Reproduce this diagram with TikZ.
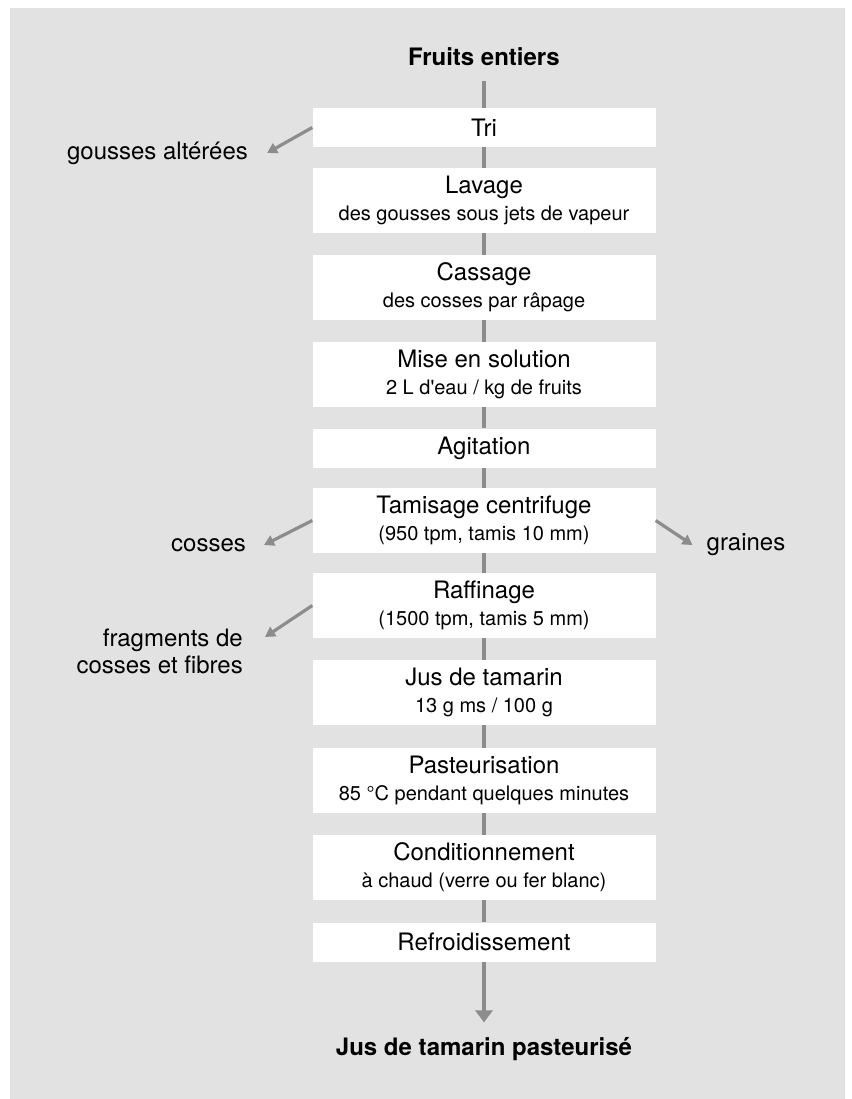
\documentclass[tikz,border=0pt]{standalone}
\usepackage{fontspec}
\setmainfont{TeX Gyre Heros}
\usetikzlibrary{arrows.meta}

\definecolor{bggray}{HTML}{E2E2E2}
\definecolor{flowgray}{HTML}{8C8C8C}
\newcommand{\detailfont}{\fontsize{20}{24}\selectfont}

\begin{document}
\begin{tikzpicture}[
    x=1pt, y=-1pt,
    font=\fontsize{24}{27}\selectfont,
    stepbox/.style={fill=white, inner sep=0pt, align=center, minimum width=343pt, minimum height=39pt},
    tallbox/.style={stepbox, minimum height=65pt},
    endlabel/.style={font=\fontsize{24}{27}\selectfont\bfseries, inner xsep=0pt, inner ysep=15pt, anchor=base},
    sidelabel/.style={inner ysep=0pt, align=right},
    flow/.style={draw=flowgray, line width=4pt},
    sidearrow/.style={draw=flowgray, line width=3.2pt, -{Triangle[length=10pt,width=11pt]}}
]

\useasboundingbox (0,0) rectangle (851,1099);
\fill[bggray] (10,8) rectangle (845,1099);

% Main chain of steps
\node[endlabel] (fruits) at (484,65.5) {Fruits entiers};
\node[stepbox] (tri) at (484,127.5) {Tri};
\node[tallbox] (lavage) at (484,200.5) {Lavage\\{\detailfont des gousses sous jets de vapeur}};
\node[tallbox] (cassage) at (484,287.5) {Cassage\\{\detailfont des cosses par râpage}};
\node[tallbox] (solution) at (484,374.5) {Mise en solution\\{\detailfont 2 L d\textquotesingle eau / kg de fruits}};
\node[stepbox] (agitation) at (484,448) {Agitation};
\node[tallbox] (tamisage) at (484,520.5) {Tamisage centrifuge\\{\detailfont (950 tpm, tamis 10 mm)}};
\node[tallbox] (raffinage) at (484,605.5) {Raffinage\\{\detailfont (1500 tpm, tamis 5 mm)}};
\node[tallbox] (jus) at (484,692.5) {Jus de tamarin\\{\detailfont 13 g ms / 100 g}};
\node[tallbox] (pasteur) at (484,780.5) {Pasteurisation\\{\detailfont 85 °C pendant quelques minutes}};
\node[tallbox] (condit) at (484,867.5) {Conditionnement\\{\detailfont à chaud (verre ou fer blanc)}};
\node[stepbox] (refroid) at (484,942) {Refroidissement};
\node[endlabel] (produit) at (484,1055.6) {Jus de tamarin pasteurisé};

% By-products
\node[sidelabel, inner xsep=19pt] (gousses) at (157.5,153) {gousses altérées};
\node[sidelabel, inner xsep=18pt] (cosses) at (208.5,545) {cosses};
\node[sidelabel, inner xsep=14pt] (graines) at (746,545) {graines};
\node[sidelabel, inner xsep=22pt, anchor=east] (fragments) at (265,651) {fragments de\\cosses et fibres};

% Connections
\foreach \a/\b in {fruits/tri, tri/lavage, lavage/cassage, cassage/solution, solution/agitation,
    agitation/tamisage, tamisage/raffinage, raffinage/jus, jus/pasteur, pasteur/condit, condit/refroid}
    \draw[flow] (\a) -- (\b);
\draw[flow, -{Triangle[length=12pt,width=17pt]}] (refroid) -- (produit);

\draw[sidearrow] (tri.west) -- (gousses.east);
\draw[sidearrow] (tamisage.west) -- (cosses.east);
\draw[sidearrow] (tamisage.east) -- (graines.west);
\draw[sidearrow] (raffinage.west) -- ([yshift=14pt]fragments.east);

\end{tikzpicture}
\end{document}
